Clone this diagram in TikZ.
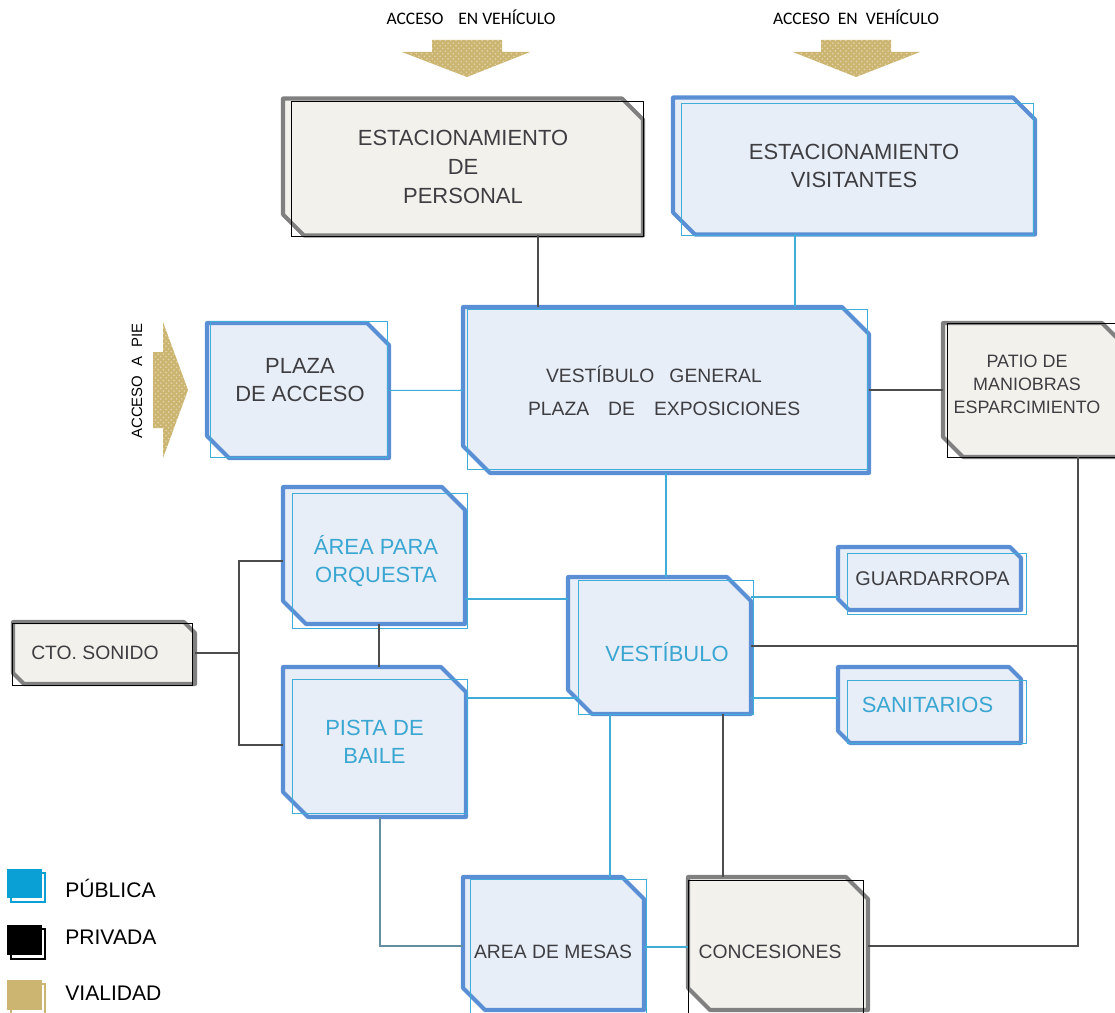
\documentclass[tikz,border=0pt]{standalone}
\usepackage{fontspec}
\setmainfont{Liberation Sans}
\newfontfamily\calibri{Carlito}
\usetikzlibrary{patterns,backgrounds}
\definecolor{azulborde}{RGB}{91,143,213}
\definecolor{azulfondo}{RGB}{232,238,247}
\definecolor{cian}{RGB}{64,172,216}
\definecolor{grisborde}{RGB}{128,128,128}
\definecolor{grisfondo}{RGB}{242,241,236}
\definecolor{oro}{RGB}{203,181,112}
\definecolor{textoosc}{RGB}{62,62,66}
\definecolor{textocian}{RGB}{58,166,210}
\definecolor{cianley}{RGB}{10,160,214}
\newdimen\px \px=0.02cm
% contorno con esquinas cortadas (arriba derecha, abajo izquierda)
\newcommand{\chaflan}[3]{\path[#3] (#1.north west) -- ([xshift=-#2]#1.north east) -- ([yshift=-#2]#1.north east) -- (#1.south east) -- ([xshift=#2]#1.south west) -- ([yshift=#2]#1.south west) -- cycle;}
\begin{document}
\begin{tikzpicture}[x=0.02cm,y=-0.02cm]
\tikzstyle{caja} = [rectangle, inner sep=0pt, outer sep=0pt, align=center, text=textoosc]
\tikzstyle{bordepub} = [draw=azulborde, fill=azulfondo, line width=2.3pt, line join=round]
\tikzstyle{bordepriv} = [draw=grisborde, fill=grisfondo, line width=2.3pt, line join=round]
\tikzstyle{marcopub} = [draw=cian, line width=0.5pt]
\tikzstyle{marcopriv} = [draw=black, line width=0.5pt]
\tikzstyle{lineapub} = [draw=cian, line width=0.6pt]
\tikzstyle{lineapriv} = [draw=black!70, line width=0.6pt]
\tikzstyle{lineamix} = [draw=cian!55!black!70, line width=0.6pt]
\tikzstyle{grande} = [font=\fontsize{12.5}{16.3}\selectfont]
\tikzstyle{media} = [font=\fontsize{11}{14}\selectfont]
\tikzstyle{vialidad} = [fill=oro]
\tikzstyle{grano} = [pattern=crosshatch dots, pattern color=oro!55!white]
\useasboundingbox (0,0) rectangle (1115,1013);

%accesos
\fill[vialidad] (432,40)--(502,40)--(502,52)--(530,52)--(467,77)--(402,52)--(432,52)--cycle;
\fill[grano] (432,40)--(502,40)--(502,52)--(530,52)--(467,77)--(402,52)--(432,52)--cycle;
\fill[vialidad] (821,40)--(891,40)--(891,52)--(920,52)--(856,77)--(793,52)--(821,52)--cycle;
\fill[grano] (821,40)--(891,40)--(891,52)--(920,52)--(856,77)--(793,52)--(821,52)--cycle;
\fill[vialidad] (153,352)--(163,352)--(163,322)--(188,390)--(163,458)--(163,428)--(153,428)--cycle;
\fill[grano] (153,352)--(163,352)--(163,322)--(188,390)--(163,458)--(163,428)--(153,428)--cycle;
\node[font=\calibri\fontsize{10}{12}\selectfont] (vehiculo1) at (471,17) {ACCESO\hspace{15\px}EN VEHÍCULO};
\node[font=\calibri\fontsize{10}{12}\selectfont] (vehiculo2) at (856,17) {ACCESO\hspace{8\px}EN\hspace{8\px}VEHÍCULO};
\node[font=\fontsize{8.5}{10}\selectfont, rotate=90] (pie) at (137,381) {ACCESO\hspace{9\px}A\hspace{9\px}PIE};

%espacios
\node[caja, grande, minimum width=360\px, minimum height=137\px] (personal) at (463,167) {ESTACIONAMIENTO\\DE\\PERSONAL};
\node[caja, grande, minimum width=362\px, minimum height=137\px] (visitantes) at (854,166) {ESTACIONAMIENTO\\VISITANTES};
\node[caja, minimum width=182\px, minimum height=135\px] (plaza) at (298,390.5) {};
\node[caja, minimum width=406\px, minimum height=166\px] (general) at (666,390) {};
\node[caja, minimum width=179\px, minimum height=134\px] (patio) at (1032.5,390) {};
\node[caja, minimum width=182\px, minimum height=137\px] (orquesta) at (374,555.5) {};
\node[caja, grande, text=textocian, minimum width=183\px, minimum height=150\px] (pista) at (374.5,742) {PISTA DE\\BAILE};
\node[caja, minimum width=183\px, minimum height=137\px] (vestibulo) at (659.5,645.5) {};
\node[caja, font=\fontsize{11.3}{14}\selectfont, minimum width=183\px, minimum height=63\px] (guardarropa) at (929.5,578.5) {\hspace*{6\px}GUARDARROPA};
\node[caja, grande, text=textocian, minimum width=183\px, minimum height=76\px] (sanitarios) at (929.5,705) {SANITARIOS\hspace*{4\px}};
\node[caja, minimum width=181\px, minimum height=133\px] (mesas) at (553.5,943.5) {};
\node[caja, minimum width=180\px, minimum height=133\px] (concesiones) at (778,943.5) {};
\node[caja, media, minimum width=182\px, minimum height=62\px] (sonido) at (104,653) {CTO. SONIDO\hspace*{18\px}};

%textos desplazados
\node[caja, grande] (plazatxt) at (300,380) {PLAZA\\DE ACCESO};
\node[caja, font=\fontsize{11}{18.7}\selectfont, align=left, anchor=west] (generaltxt) at (528,391) {\hspace*{18\px}VESTÍBULO\hspace{15\px}GENERAL\\PLAZA\hspace{19\px}DE\hspace{19\px}EXPOSICIONES};
\node[caja, font=\fontsize{10.2}{13}\selectfont] (patiotxt) at (1027,384) {PATIO DE\\MANIOBRAS\\ESPARCIMIENTO};
\node[caja, grande, text=textocian] (orquestatxt) at (376,561) {ÁREA PARA\\ORQUESTA};
\node[caja, grande, text=textocian] (vestibulotxt) at (667,652) {VESTÍBULO};
\node[caja, media] (mesastxt) at (553,952) {AREA DE MESAS};
\node[caja, media] (concesionestxt) at (770,952) {CONCESIONES};

%contornos y marcos finos
\begin{scope}[on background layer]
\chaflan{personal}{21\px}{bordepriv}
\chaflan{visitantes}{22\px}{bordepub}
\chaflan{plaza}{22\px}{bordepub}
\chaflan{general}{27\px}{bordepub}
\chaflan{patio}{20\px}{bordepriv}
\chaflan{orquesta}{23\px}{bordepub}
\chaflan{pista}{25\px}{bordepub}
\chaflan{vestibulo}{24\px}{bordepub}
\chaflan{guardarropa}{11\px}{bordepub}
\chaflan{sanitarios}{12\px}{bordepub}
\chaflan{mesas}{22\px}{bordepub}
\chaflan{concesiones}{22\px}{bordepriv}
\chaflan{sonido}{11\px}{bordepriv}
\draw[marcopriv] (291,101) rectangle (643,236);
\draw[marcopub] (681,103) rectangle (1033,235);
\draw[marcopub] (210,321) rectangle (387,457);
\draw[marcopub] (467,309) rectangle (867,469);
\draw[marcopriv] (947,323) rectangle (1125,457);
\draw[marcopub] (292,493) rectangle (467,628);
\draw[marcopub] (292,679) rectangle (467,813);
\draw[marcopub] (578,580) rectangle (753,714);
\draw[marcopub] (847,553) rectangle (1026,614);
\draw[marcopub] (847,680) rectangle (1026,743);
\draw[marcopub] (470,879) rectangle (646,1020);
\draw[marcopriv] (688,880) rectangle (863,1020);
\draw[marcopriv] (12,623) rectangle (192,685);
\end{scope}

%conexiones
\coordinate (nudo) at (239,654);
\coordinate (cruce) at (1078,646);
\draw[lineapriv] (personal.south -| 538,0) -- (general.north -| 538,0);
\draw[lineapub] (visitantes.south -| 795,0) -- (general.north -| 795,0);
\draw[lineapub] (plaza) -- (general);
\draw[lineapriv] (general) -- (patio);
\draw[lineapub] (general.south) -- (general.south |- vestibulo.north);
\draw[lineapriv] (sonido.east) -- (sonido.east -| nudo);
\draw[lineapriv] (orquesta.west |- 0,561) -| (nudo) |- (pista.west |- 0,745);
\draw[lineapriv] (orquesta.south -| 379,0) -- (pista.north -| 379,0);
\draw[lineapub] (orquesta.east |- 0,599) -- (vestibulo.west |- 0,599);
\draw[lineapub] (pista.east |- 0,698) -- ([xshift=10\px]vestibulo.west |- 0,698);
\draw[lineapub] (vestibulo.east |- 0,597) -- (guardarropa.west |- 0,597);
\draw[lineapub] (vestibulo.east |- 0,698) -- (sanitarios.west |- 0,698);
\draw[lineapriv] (vestibulo.east |- cruce) -- (cruce);
\draw[lineapriv] (patio.south -| cruce) |- (concesiones.east |- 0,946);
\draw[lineapub] (vestibulo.south -| 610,0) -- (mesas.north -| 610,0);
\draw[lineapriv] (vestibulo.south -| 723,0) -- (concesiones.north -| 723,0);
\draw[lineamix] (pista.south -| 380,0) |- (mesas.west |- 0,946);
\draw[lineapub] (mesas.east |- 0,947) -- (concesiones.west |- 0,947);

%leyenda
\draw[cianley, line width=0.6pt] (11,873) rectangle (45,902);
\fill[cianley] (7,869) rectangle (42,898);
\draw[black, line width=0.6pt] (11,929) rectangle (45,959);
\fill[black] (7,925) rectangle (42,955);
\draw[oro, line width=0.6pt] (11,984) rectangle (45,1014);
\fill[oro] (7,980) rectangle (42,1010);
\node[font=\fontsize{12}{14}\selectfont, anchor=west, inner sep=0pt] (publica) at (65,888) {PÚBLICA};
\node[font=\fontsize{12}{14}\selectfont, anchor=west, inner sep=0pt] (privada) at (65,937) {PRIVADA};
\node[font=\fontsize{12}{14}\selectfont, anchor=west, inner sep=0pt] (vialidad) at (65,993) {VIALIDAD};
\end{tikzpicture}
\end{document}
